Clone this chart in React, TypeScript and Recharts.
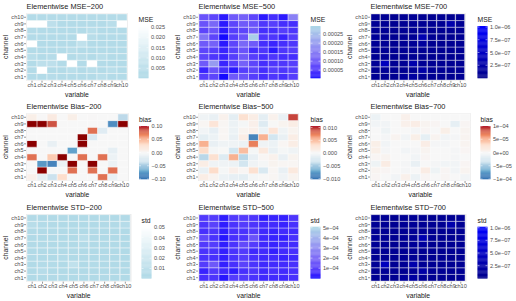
import { BarChart, Bar, Cell, XAxis, YAxis, CartesianGrid } from "recharts";

const VARIABLES = ["ch1", "ch2", "ch3", "ch4", "ch5", "ch6", "ch7", "ch8", "ch9", "ch10"];
const CHANNELS = ["ch1", "ch2", "ch3", "ch4", "ch5", "ch6", "ch7", "ch8", "ch9", "ch10"];

// every matrix: rows from ch10 (top) down to ch1, columns ch1..ch10
const MSE_200 = [
  [0.002, 0.002, 0.002, 0.002, 0.002, 0.002, 0.002, 0.002, 0.002, 0.0025],
  [0.026, 0.026, 0.005, 0.002, 0.002, 0.002, 0.002, 0.002, 0.004, 0.026],
  [0.0025, 0.002, 0.002, 0.002, 0.002, 0.002, 0.004, 0.002, 0.002, 0.002],
  [0.002, 0.002, 0.002, 0.002, 0.002, 0.026, 0.0035, 0.002, 0.002, 0.002],
  [0.026, 0.002, 0.002, 0.002, 0.002, 0.006, 0.002, 0.002, 0.002, 0.002],
  [0.002, 0.002, 0.002, 0.002, 0.0035, 0.002, 0.002, 0.002, 0.002, 0.002],
  [0.004, 0.002, 0.003, 0.026, 0.002, 0.0035, 0.002, 0.004, 0.002, 0.002],
  [0.002, 0.005, 0.005, 0.002, 0.026, 0.002, 0.026, 0.002, 0.002, 0.002],
  [0.002, 0.026, 0.002, 0.002, 0.004, 0.002, 0.0035, 0.002, 0.004, 0.002],
  [0.002, 0.002, 0.003, 0.002, 0.002, 0.002, 0.002, 0.004, 0.002, 0.002],
];

const MSE_500 = [
  [9e-5, 7e-5, 2e-5, 10e-5, 11e-5, 7e-5, 2e-5, 4e-5, 2e-5, 16e-5],
  [9e-5, 12e-5, 2e-5, 7e-5, 10e-5, 9e-5, 5e-5, 6e-5, 4e-5, 4e-5],
  [7e-5, 9e-5, 2e-5, 6e-5, 7e-5, 10e-5, 4e-5, 4e-5, 6e-5, 5e-5],
  [14e-5, 7e-5, 1e-5, 6e-5, 9e-5, 28e-5, 5e-5, 5e-5, 3e-5, 6e-5],
  [10e-5, 11e-5, 2e-5, 7e-5, 12e-5, 10e-5, 4e-5, 3e-5, 4e-5, 5e-5],
  [7e-5, 6e-5, 3e-5, 6e-5, 9e-5, 4e-5, 5e-5, 2e-5, 5e-5, 6e-5],
  [7e-5, 5e-5, 3e-5, 6e-5, 10e-5, 6e-5, 4e-5, 5e-5, 4e-5, 4e-5],
  [10e-5, 20e-5, 3e-5, 6e-5, 11e-5, 7e-5, 4e-5, 5e-5, 5e-5, 6e-5],
  [3e-5, 9e-5, 4e-5, 2e-5, 6e-5, 7e-5, 4e-5, 6e-5, 5e-5, 6e-5],
  [6e-5, 7e-5, 1e-5, 10e-5, 9e-5, 6e-5, 4e-5, 5e-5, 4e-5, 6e-5],
];

const MSE_700 = [
  [0.8e-7, 0.7e-7, 0.6e-7, 0.8e-7, 0.9e-7, 0.7e-7, 0.6e-7, 0.7e-7, 0.6e-7, 1.0e-7],
  [0.9e-7, 0.8e-7, 0.6e-7, 0.7e-7, 0.8e-7, 0.8e-7, 0.7e-7, 0.7e-7, 3.0e-7, 0.8e-7],
  [0.8e-7, 0.8e-7, 0.6e-7, 0.7e-7, 0.7e-7, 0.9e-7, 0.6e-7, 0.6e-7, 0.7e-7, 0.7e-7],
  [1.2e-7, 0.8e-7, 0.6e-7, 0.7e-7, 0.9e-7, 3.5e-7, 0.7e-7, 0.6e-7, 0.6e-7, 0.8e-7],
  [0.9e-7, 0.9e-7, 0.6e-7, 0.7e-7, 1.0e-7, 1.8e-7, 0.6e-7, 0.6e-7, 0.7e-7, 0.8e-7],
  [0.8e-7, 0.8e-7, 0.7e-7, 0.7e-7, 0.9e-7, 0.7e-7, 0.7e-7, 0.6e-7, 0.7e-7, 0.8e-7],
  [0.7e-7, 0.7e-7, 0.6e-7, 0.7e-7, 0.8e-7, 0.7e-7, 0.6e-7, 0.7e-7, 0.6e-7, 0.7e-7],
  [1.0e-7, 4.5e-7, 0.7e-7, 0.8e-7, 3.0e-7, 0.9e-7, 0.7e-7, 0.7e-7, 0.7e-7, 0.8e-7],
  [0.7e-7, 1.0e-7, 0.7e-7, 0.6e-7, 0.9e-7, 2.5e-7, 0.9e-7, 0.8e-7, 0.7e-7, 0.8e-7],
  [0.8e-7, 0.8e-7, 0.6e-7, 1.5e-7, 2.0e-7, 1.0e-7, 0.7e-7, 0.7e-7, 0.6e-7, 0.8e-7],
];

const BIAS_200 = [
  [0.01, 0.001, 0.015, 0, 0.01, 0, 0.001, 0, 0, -0.04],
  [0.13, 0.13, 0.085, 0, 0, 0, 0, 0, -0.08, 0.13],
  [0, 0, 0, 0, 0, 0, 0.075, -0.02, 0, 0],
  [0, 0, 0, 0, 0, 0.13, -0.025, 0, 0, 0],
  [0.13, 0, -0.012, 0, 0, 0.13, 0, 0, 0, 0],
  [0, 0, 0, 0, -0.07, 0, 0, 0, -0.015, 0],
  [0.075, 0, 0.04, 0.13, 0, 0.075, 0, 0.075, -0.01, 0],
  [0, -0.075, -0.085, -0.01, 0.13, 0, 0.13, 0, -0.01, 0],
  [0, 0.13, 0, 0, 0.075, 0, 0.075, 0, 0.075, 0],
  [0.008, -0.015, -0.035, 0.03, 0, 0, 0, 0.075, -0.012, 0],
];

const BIAS_500 = [
  [-0.0005, -0.001, 0.001, -0.0015, 0.003, 0.0015, -0.0015, 0.001, -0.001, 0.0095],
  [0.0005, 0.0025, 0.0005, -0.0008, 0, 0.0012, -0.002, 0.0003, 0.0008, 0.0015],
  [-0.0003, -0.0012, 0.0005, -0.0008, 0.0008, 0.0012, -0.0008, 0.0025, -0.0005, 0.0008],
  [-0.0015, -0.0008, 0.0005, -0.001, 0.0015, -0.0085, 0.0055, -0.003, -0.001, 0.0015],
  [0.0055, -0.001, -0.0005, -0.0005, -0.0008, 0.0075, -0.0005, -0.0008, 0.0005, 0.0015],
  [0.0035, 0, 0.0003, -0.003, 0.005, 0, 0.002, -0.001, 0, -0.0005],
  [-0.004, 0.003, -0.002, 0.0055, -0.004, -0.001, 0.0005, 0.001, -0.001, 0.0008],
  [0.0015, -0.0005, -0.0005, -0.0008, -0.003, -0.0005, 0, 0.0008, 0.0005, 0.0005],
  [-0.001, 0.0035, 0, 0.0012, 0.0005, 0.003, -0.0025, 0.0005, -0.001, 0.002],
  [0.0015, 0.0008, -0.0008, -0.0012, -0.0015, 0, 0.0003, 0.0005, -0.0005, 0.0008],
];

const BIAS_700 = [
  [-1e-5, 0, 0, 8e-6, 0, 0, 0, 0, 0, 0],
  [-5e-6, -5e-6, 0, 8e-6, 1.2e-5, 5e-6, 3e-6, 0, -1.5e-5, 3e-6],
  [0, -8e-6, 0, 0, -3e-6, 3e-6, 0, 1e-5, 0, 5e-6],
  [0, -3e-6, 5e-6, -5e-6, 1e-5, -1.5e-5, 5e-6, -5e-6, -3e-6, 5e-6],
  [1e-5, -5e-6, 0, 0, 0, 1.2e-5, -3e-6, -3e-6, 0, 5e-6],
  [1e-5, -3e-6, 0, -5e-6, -3e-6, 5e-6, 0, 0, -3e-6, 3e-6],
  [3e-6, 5e-6, 0, 0, -5e-6, 3e-6, 0, 0, -3e-6, 0],
  [-8e-6, 1.3e-5, 0, -3e-6, -1.2e-5, 0, -3e-6, -5e-6, -5e-6, 3e-6],
  [5e-6, 3e-6, 0, -3e-6, 0, 1.3e-5, -8e-6, 3e-6, -5e-6, 5e-6],
  [3e-6, 0, -5e-6, 8e-6, -1e-5, 3e-6, 0, 3e-6, 0, -5e-6],
];

const STD_200 = [
  [0.0035, 0.003, 0.003, 0.003, 0.003, 0.003, 0.003, 0.003, 0.003, 0.0035],
  [0.007, 0.004, 0.0035, 0.003, 0.003, 0.003, 0.003, 0.0035, 0.0035, 0.006],
  [0.0035, 0.003, 0.003, 0.003, 0.003, 0.003, 0.0035, 0.003, 0.003, 0.003],
  [0.003, 0.003, 0.003, 0.003, 0.003, 0.008, 0.0035, 0.003, 0.003, 0.003],
  [0.0035, 0.003, 0.003, 0.003, 0.003, 0.004, 0.003, 0.003, 0.003, 0.003],
  [0.003, 0.003, 0.003, 0.003, 0.0035, 0.003, 0.003, 0.003, 0.003, 0.003],
  [0.0035, 0.003, 0.003, 0.004, 0.003, 0.0035, 0.003, 0.0035, 0.003, 0.003],
  [0.003, 0.004, 0.004, 0.003, 0.012, 0.003, 0.004, 0.003, 0.003, 0.003],
  [0.003, 0.006, 0.003, 0.003, 0.0035, 0.003, 0.0035, 0.003, 0.0035, 0.003],
  [0.003, 0.003, 0.0035, 0.003, 0.003, 0.003, 0.003, 0.0035, 0.003, 0.003],
];

const STD_500 = [
  [0.85e-4, 0.9e-4, 0.3e-4, 0.85e-4, 0.9e-4, 0.75e-4, 0.3e-4, 0.4e-4, 0.35e-4, 0.75e-4],
  [0.75e-4, 1.05e-4, 0.3e-4, 0.7e-4, 0.9e-4, 0.75e-4, 0.55e-4, 0.55e-4, 0.4e-4, 0.65e-4],
  [0.65e-4, 0.75e-4, 0.3e-4, 0.65e-4, 0.7e-4, 0.85e-4, 0.5e-4, 0.4e-4, 0.55e-4, 0.55e-4],
  [1.2e-4, 0.7e-4, 0.2e-4, 0.65e-4, 0.75e-4, 1.5e-4, 0.5e-4, 0.4e-4, 0.35e-4, 0.65e-4],
  [0.85e-4, 0.9e-4, 0.3e-4, 0.7e-4, 1.25e-4, 0.9e-4, 0.5e-4, 0.4e-4, 0.5e-4, 0.55e-4],
  [0.7e-4, 0.7e-4, 0.35e-4, 0.7e-4, 0.85e-4, 0.5e-4, 0.55e-4, 0.35e-4, 0.55e-4, 0.65e-4],
  [0.7e-4, 0.65e-4, 0.35e-4, 0.7e-4, 0.9e-4, 0.65e-4, 0.5e-4, 0.55e-4, 0.4e-4, 0.5e-4],
  [0.9e-4, 1.6e-4, 0.35e-4, 0.65e-4, 1.05e-4, 0.7e-4, 0.5e-4, 0.55e-4, 0.55e-4, 0.65e-4],
  [0.4e-4, 0.85e-4, 0.5e-4, 0.3e-4, 0.65e-4, 0.75e-4, 0.5e-4, 0.65e-4, 0.55e-4, 0.65e-4],
  [0.65e-4, 0.75e-4, 0.2e-4, 0.9e-4, 0.85e-4, 0.7e-4, 0.5e-4, 0.55e-4, 0.5e-4, 0.65e-4],
];

const STD_700 = [
  [0.8e-7, 0.8e-7, 0.6e-7, 0.8e-7, 1.0e-7, 0.7e-7, 0.6e-7, 0.7e-7, 0.7e-7, 0.9e-7],
  [0.9e-7, 0.8e-7, 0.6e-7, 0.8e-7, 0.9e-7, 0.8e-7, 0.7e-7, 0.7e-7, 3.0e-7, 0.8e-7],
  [0.8e-7, 0.8e-7, 0.6e-7, 0.7e-7, 0.8e-7, 0.9e-7, 0.6e-7, 0.6e-7, 0.7e-7, 0.7e-7],
  [1.2e-7, 0.8e-7, 0.6e-7, 0.8e-7, 1.0e-7, 3.5e-7, 0.7e-7, 0.6e-7, 0.6e-7, 0.8e-7],
  [0.9e-7, 0.9e-7, 0.6e-7, 0.7e-7, 1.1e-7, 1.6e-7, 0.6e-7, 0.6e-7, 0.7e-7, 0.8e-7],
  [0.8e-7, 0.8e-7, 0.7e-7, 0.7e-7, 0.9e-7, 0.7e-7, 0.7e-7, 0.6e-7, 0.7e-7, 0.8e-7],
  [0.7e-7, 0.7e-7, 0.6e-7, 0.7e-7, 0.8e-7, 0.7e-7, 0.6e-7, 0.7e-7, 0.6e-7, 0.7e-7],
  [1.0e-7, 4.5e-7, 0.7e-7, 0.8e-7, 3.0e-7, 0.9e-7, 0.7e-7, 0.7e-7, 0.7e-7, 0.8e-7],
  [0.7e-7, 1.0e-7, 0.7e-7, 0.6e-7, 0.9e-7, 2.5e-7, 0.9e-7, 0.8e-7, 0.7e-7, 0.8e-7],
  [0.8e-7, 0.8e-7, 0.6e-7, 1.5e-7, 2.0e-7, 1.0e-7, 0.7e-7, 0.7e-7, 0.6e-7, 0.8e-7],
];

const FONT = '"Liberation Sans", Arial, sans-serif';
const AXIS_TEXT = "#4D4D4D";

// colour helpers, ramps are interpolated in Lab like ggplot does
function hexToLab(hex: string) {
  const n = parseInt(hex.slice(1), 16);
  const lin = [(n >> 16) & 255, (n >> 8) & 255, n & 255].map((c) => {
    const v = c / 255;
    return v <= 0.04045 ? v / 12.92 : Math.pow((v + 0.055) / 1.055, 2.4);
  });
  const [r, g, b] = lin;
  const x = (0.4124564 * r + 0.3575761 * g + 0.1804375 * b) / 0.95047;
  const y = 0.2126729 * r + 0.7151522 * g + 0.072175 * b;
  const z = (0.0193339 * r + 0.119192 * g + 0.9503041 * b) / 1.08883;
  const f = (t: number) => (t > 0.008856 ? Math.cbrt(t) : 7.787 * t + 16 / 116);
  const fx = f(x), fy = f(y), fz = f(z);
  return [116 * fy - 16, 500 * (fx - fy), 200 * (fy - fz)];
}

function labToHex([L, a, bb]: number[]) {
  const fy = (L + 16) / 116;
  const fx = fy + a / 500;
  const fz = fy - bb / 200;
  const inv = (t: number) => (t * t * t > 0.008856 ? t * t * t : (t - 16 / 116) / 7.787);
  const x = inv(fx) * 0.95047, y = inv(fy), z = inv(fz) * 1.08883;
  const rgb = [
    3.2404542 * x - 1.5371385 * y - 0.4985314 * z,
    -0.969266 * x + 1.8760108 * y + 0.041556 * z,
    0.0556434 * x - 0.2040259 * y + 1.0572252 * z,
  ].map((c) => {
    const v = c <= 0.0031308 ? 12.92 * c : 1.055 * Math.pow(c, 1 / 2.4) - 0.055;
    return Math.round(Math.min(1, Math.max(0, v)) * 255);
  });
  return "#" + rgb.map((c) => c.toString(16).padStart(2, "0")).join("");
}

function ramp(stops: string[], lo: number, hi: number, over?: string) {
  const labs = stops.map(hexToLab);
  return (v: number) => {
    if (over && v > hi) return over;
    const t = Math.min(1, Math.max(0, (v - lo) / (hi - lo)));
    const p = t * (labs.length - 1);
    const i = Math.min(labs.length - 2, Math.floor(p));
    const f = p - i;
    return labToHex(labs[i].map((c, k) => c + (labs[i + 1][k] - c) * f));
  };
}

const RDBU = ["#2166AC", "#67A9CF", "#D1E5F0", "#F7F7F7", "#FDDBC7", "#EF8A62", "#B2182B"];

type PanelSpec = {
  title: string;
  legend: string;
  rows: number[][];
  stops: string[];
  lo: number;
  hi: number;
  over?: string;
  breaks: number[];
  labels: string[];
  plotRight: number;
  barX: number;
};

const ROW_LAYOUT = [
  { height: 100, plotTop: 13.3, plotBottom: 80.7, barTop: 26, barBottom: 78, titleY: 9 },
  { height: 100, plotTop: 13.3, plotBottom: 81, barTop: 26, barBottom: 79, titleY: 9 },
  { height: 101, plotTop: 14, plotBottom: 81.7, barTop: 26.7, barBottom: 78.3, titleY: 9.5 },
];

const PANELS: PanelSpec[][] = [
  [
    { title: "Elementwise MSE\u2212200", legend: "MSE", rows: MSE_200, stops: ["#ADD8E6", "#FFFFFF"], lo: 0.0003, hi: 0.0255,
      breaks: [0.005, 0.01, 0.015, 0.02, 0.025], labels: ["0.005", "0.010", "0.015", "0.020", "0.025"], plotRight: 128, barX: 138.5 },
    { title: "Elementwise MSE\u2212500", legend: "MSE", rows: MSE_500, stops: ["#0000FF", "#ADD8E6"], lo: 0.000006, hi: 0.000296,
      breaks: [5e-5, 1e-4, 1.5e-4, 2e-4, 2.5e-4], labels: ["0.00005", "0.00010", "0.00015", "0.00020", "0.00025"], plotRight: 127, barX: 138.5 },
    { title: "Elementwise MSE\u2212700", legend: "MSE", rows: MSE_700, stops: ["#00008B", "#0000FF"], lo: 0, hi: 1.02e-6,
      breaks: [2.5e-7, 5e-7, 7.5e-7, 1e-6], labels: ["2.5e\u221207", "5.0e\u221207", "7.5e\u221207", "1.0e\u221206"], plotRight: 122, barX: 133.5 },
  ],
  [
    { title: "Elementwise Bias\u2212200", legend: "bias", rows: BIAS_200, stops: RDBU, lo: -0.1, hi: 0.1, over: "#8B0000",
      breaks: [-0.1, -0.05, 0, 0.05, 0.1], labels: ["\u22120.10", "\u22120.05", "0.00", "0.05", "0.10"], plotRight: 129, barX: 139 },
    { title: "Elementwise Bias\u2212500", legend: "bias", rows: BIAS_500, stops: RDBU, lo: -0.0101, hi: 0.0106,
      breaks: [-0.01, -0.005, 0, 0.005, 0.01], labels: ["\u22120.010", "\u22120.005", "0.000", "0.005", "0.010"], plotRight: 127, barX: 138.5 },
    { title: "Elementwise Bias\u2212700", legend: "bias", rows: BIAS_700, stops: RDBU, lo: -1e-4, hi: 1e-4,
      breaks: [-1e-4, -5e-5, 0, 5e-5, 1e-4], labels: ["\u22121e\u221204", "\u22125e\u221205", "0e+00", "5e\u221205", "1e\u221204"], plotRight: 127, barX: 136.5 },
  ],
  [
    { title: "Elementwise STD\u2212200", legend: "std", rows: STD_200, stops: ["#ADD8E6", "#FFFFFF"], lo: 0.0005, hi: 0.0505,
      breaks: [0.01, 0.02, 0.03, 0.04, 0.05], labels: ["0.01", "0.02", "0.03", "0.04", "0.05"], plotRight: 131.5, barX: 141.5 },
    { title: "Elementwise STD\u2212500", legend: "std", rows: STD_500, stops: ["#0000FF", "#ADD8E6"], lo: 0, hi: 5.1e-4,
      breaks: [1e-4, 2e-4, 3e-4, 4e-4, 5e-4], labels: ["1e\u221204", "2e\u221204", "3e\u221204", "4e\u221204", "5e\u221204"], plotRight: 127.5, barX: 138.5 },
    { title: "Elementwise STD\u2212700", legend: "std", rows: STD_700, stops: ["#00008B", "#0000FF"], lo: 0, hi: 1.02e-6,
      breaks: [2.5e-7, 5e-7, 7.5e-7, 1e-6], labels: ["2.5e\u221207", "5.0e\u221207", "7.5e\u221207", "1.0e\u221206"], plotRight: 122.5, barX: 133.5 },
  ],
];

const ROW_KEYS = CHANNELS.map((_, i) => `r${i}`);
const Y_TICKS = CHANNELS.map((_, i) => i + 0.5);
const TICK_FONT = 5.6;

function Heatmap({ spec, layout }: { spec: PanelSpec; layout: (typeof ROW_LAYOUT)[number] }) {
  const color = ramp(spec.stops, spec.lo, spec.hi, spec.over);
  const data = VARIABLES.map((name) => {
    const d: Record<string, string | number> = { name };
    ROW_KEYS.forEach((k) => (d[k] = 1));
    return d;
  });
  const barW = 10;
  const barH = layout.barBottom - layout.barTop;
  const yOf = (v: number) => layout.barBottom - ((v - spec.lo) / (spec.hi - spec.lo)) * barH;
  const steps = 60;
  const plotMid = (26 + spec.plotRight) / 2;
  const plotMidY = (layout.plotTop + layout.plotBottom) / 2;

  return (
    <div style={{ position: "relative", width: 172, height: layout.height }}>
      <BarChart
        width={172}
        height={layout.height}
        data={data}
        barCategoryGap={0}
        barGap={0}
        margin={{ top: layout.plotTop, right: 172 - spec.plotRight, bottom: 0, left: 0 }}
        style={{ position: "absolute", left: 0, top: 0 }}
      >
        <CartesianGrid fill="#EBEBEB" stroke="none" horizontal={false} vertical={false} />
        <XAxis
          dataKey="name"
          height={layout.height - layout.plotBottom}
          tickSize={2}
          tickMargin={0.5}
          axisLine={false}
          interval={0}
          padding={{ left: 1, right: 1 }}
          tickLine={{ stroke: "#333333", strokeWidth: 0.5 }}
          tick={{ fill: AXIS_TEXT, fontSize: TICK_FONT, fontFamily: FONT }}
        />
        <YAxis
          type="number"
          domain={[-0.1, 10.1]}
          ticks={Y_TICKS}
          allowDataOverflow
          width={26}
          tickSize={2}
          tickMargin={0.5}
          axisLine={false}
          interval={0}
          tickFormatter={(v: number) => CHANNELS[Math.floor(v)]}
          tickLine={{ stroke: "#333333", strokeWidth: 0.5 }}
          tick={{ fill: AXIS_TEXT, fontSize: TICK_FONT, fontFamily: FONT }}
        />
        {ROW_KEYS.map((k, i) => (
          <Bar key={k} dataKey={k} stackId="tiles" stroke="#FFFFFF" strokeWidth={0.4} isAnimationActive={false}>
            {VARIABLES.map((v, j) => (
              <Cell key={v} fill={color(spec.rows[9 - i][j])} />
            ))}
          </Bar>
        ))}
      </BarChart>
      <svg
        width={172}
        height={layout.height}
        style={{ position: "absolute", left: 0, top: 0, pointerEvents: "none", fontFamily: FONT }}
      >
        <text x={26.5} y={layout.titleY} fontSize={7.4} fill="#1A1A1A">
          {spec.title}
        </text>
        <text x={plotMid} y={layout.height - 3.5} fontSize={6.8} fill="#1A1A1A" textAnchor="middle">
          variable
        </text>
        <text
          x={8}
          y={plotMidY}
          fontSize={6.8}
          fill="#1A1A1A"
          textAnchor="middle"
          transform={`rotate(-90 8 ${plotMidY})`}
        >
          channel
        </text>
        <text x={spec.barX} y={layout.barTop - 4} fontSize={6.8} fill="#1A1A1A">
          {spec.legend}
        </text>
        {Array.from({ length: steps }, (_, s) => {
          const v = spec.lo + ((s + 0.5) / steps) * (spec.hi - spec.lo);
          const y1 = layout.barBottom - ((s + 1) / steps) * barH;
          return <rect key={s} x={spec.barX} y={y1} width={barW} height={barH / steps + 0.3} fill={color(v)} />;
        })}
        {spec.breaks.map((b, i) => (
          <g key={i}>
            <line x1={spec.barX} x2={spec.barX + 2} y1={yOf(b)} y2={yOf(b)} stroke="#FFFFFF" strokeWidth={0.5} />
            <line x1={spec.barX + barW - 2} x2={spec.barX + barW} y1={yOf(b)} y2={yOf(b)} stroke="#FFFFFF" strokeWidth={0.5} />
            <text x={spec.barX + barW + 2.5} y={yOf(b) + 2} fontSize={TICK_FONT} fill={AXIS_TEXT}>
              {spec.labels[i]}
            </text>
          </g>
        ))}
      </svg>
    </div>
  );
}

export default function App() {
  return (
    <div style={{ position: "absolute", left: 0, top: 0, width: 516, height: 301, background: "#FFFFFF" }}>
      {PANELS.map((row, r) => (
        <div key={r} style={{ display: "flex" }}>
          {row.map((spec, c) => (
            <Heatmap key={c} spec={spec} layout={ROW_LAYOUT[r]} />
          ))}
        </div>
      ))}
    </div>
  );
}
